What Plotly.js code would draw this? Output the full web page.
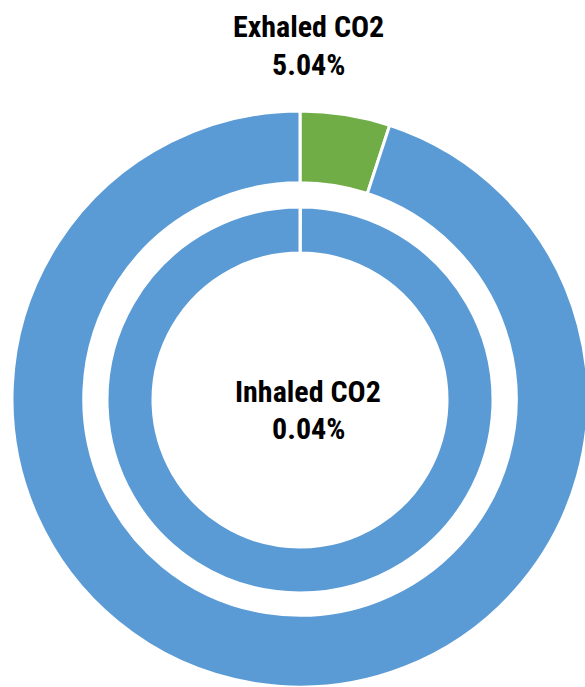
<!DOCTYPE html>
<html>
<head>
<meta charset="utf-8">
<script src="https://cdn.plot.ly/plotly-3.0.1.min.js"></script>
<style>
html,body{margin:0;padding:0;overflow:hidden;background:#fff;}
#chart{width:600px;height:687px;}
</style>
</head>
<body>
<div id="chart"></div>
<script>
// Data
var outerLabels = ["Exhaled CO2", "Other (exhaled)"];
var outerValues = [5.04, 94.96];
var innerLabels = ["Inhaled CO2", "Other (inhaled)"];
var innerValues = [0.04, 99.96];
var sliceColors = ["#70AD47", "#5B9BD5"];
var innerColors = ["#5B9BD5", "#5B9BD5"];

var W = 600, H = 687;
var cx = 300, cy = 400;
var rOuter = 289, rInner = 193;

function domainFor(r) {
  return {
    x: [(cx - r) / W, (cx + r) / W],
    y: [Math.max(0, (H - cy - r) / H), Math.min(1, (H - cy + r) / H)]
  };
}

var outer = {
  type: "pie",
  labels: outerLabels,
  values: outerValues,
  hole: 217 / 289,
  sort: false,
  direction: "clockwise",
  rotation: 0,
  textinfo: "none",
  hoverinfo: "label+value",
  marker: {colors: sliceColors, line: {color: "#ffffff", width: 3}},
  domain: domainFor(rOuter),
  showlegend: false
};
var inner = {
  type: "pie",
  labels: innerLabels,
  values: innerValues,
  hole: 147 / 193,
  sort: false,
  direction: "clockwise",
  rotation: 0,
  textinfo: "none",
  hoverinfo: "label+value",
  marker: {colors: innerColors, line: {color: "#ffffff", width: 3}},
  domain: domainFor(rInner),
  showlegend: false
};

var fontFam = "Roboto Condensed, Roboto, sans-serif";
function ann(text, xpx, ypx) {
  return {
    text: text, xref: "paper", yref: "paper",
    x: xpx / W, y: 1 - ypx / H, xanchor: "center", yanchor: "middle",
    showarrow: false,
    font: {family: fontFam, size: 30, color: "#000000", weight: "bold"}
  };
}

var layout = {
  width: W, height: H,
  margin: {l: 0, r: 0, t: 0, b: 0},
  paper_bgcolor: "#ffffff",
  showlegend: false,
  annotations: [
    ann("<b>" + outerLabels[0] + "</b>", 308, 27),
    ann("<b>" + outerValues[0].toFixed(2) + "%</b>", 308, 65),
    ann("<b>" + innerLabels[0] + "</b>", 308, 391),
    ann("<b>" + innerValues[0].toFixed(2) + "%</b>", 308, 428)
  ]
};

Plotly.newPlot("chart", [outer, inner], layout, {displayModeBar: false, staticPlot: true});
</script>
</body>
</html>
